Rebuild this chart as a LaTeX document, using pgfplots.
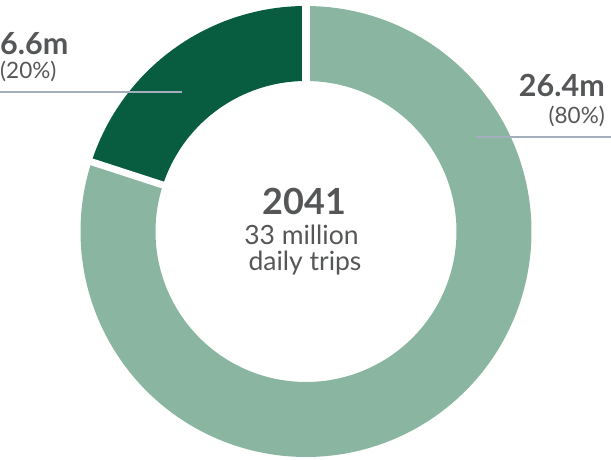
\documentclass[border=0pt]{standalone}
\usepackage{pgfplots}
\pgfplotsset{compat=1.18}
\usepackage{pgfplotstable}
\usepackage{fontspec}
\setmainfont{Lato}
\definecolor{lightg}{HTML}{8AB5A0}
\definecolor{darkg}{HTML}{085C40}
\definecolor{txt}{HTML}{555658}
\definecolor{leader}{HTML}{A3AFBD}
\pgfplotstableread{
label value
Light 26.4
Dark 6.6
}\shares
\begin{document}
\begin{tikzpicture}
\pgfplotstablegetelem{0}{value}\of\shares \let\vlight\pgfplotsretval
\pgfplotstablegetelem{1}{value}\of\shares \let\vdark\pgfplotsretval
\pgfmathsetmacro{\tot}{\vlight+\vdark}
\pgfmathsetmacro{\aone}{90+360*\vdark/\tot}
\pgfmathsetmacro{\atwo}{\aone+360*\vlight/\tot}
\begin{axis}[
  x=1pt, y=1pt,
  xmin=-306, xmax=305, ymin=-228.5, ymax=231.5,
  hide axis, clip=false,
]
% dark segment
\addplot[darkg, line width=75pt, line cap=butt, domain=90:\aone, samples=80, variable=\t] ({188*cos(t)},{188*sin(t)});
% light segment
\addplot[lightg, line width=75pt, line cap=butt, domain=\aone:\atwo, samples=240, variable=\t] ({188*cos(t)},{188*sin(t)});
% separators
\addplot[white, line width=8pt, domain=140:235, samples=2] ({x*cos(90)},{x*sin(90)});
\addplot[white, line width=7pt, domain=140:235, samples=2] ({x*cos(\aone)},{x*sin(\aone)});
% leader lines
\addplot[leader, line width=1.3pt] coordinates {(-306,139.5) (-124,139.5)};
\addplot[leader, line width=1.3pt] coordinates {(170,94.5) (305,94.5)};
% center text
\node[anchor=base, text=txt, font=\fontsize{36}{40}\selectfont\bfseries] at (axis cs:-1.5,16.5) {2041};
\node[anchor=base, text=txt, font=\fontsize{26.5}{30}\selectfont] at (axis cs:-4.5,-13.5) {33 million};
\node[anchor=base, text=txt, font=\fontsize{26.5}{30}\selectfont] at (axis cs:-1,-39.5) {daily trips};
% side labels
\node[anchor=base west, inner sep=0pt, text=txt, font=\fontsize{30.5}{34}\selectfont\bfseries] at (axis cs:-306,176.5) {6.6m};
\node[anchor=base west, inner sep=0pt, text=txt, font=\fontsize{22.5}{26}\selectfont] at (axis cs:-306,152.5) {(20\%)};
\node[anchor=base east, inner sep=0pt, text=txt, font=\fontsize{30.5}{34}\selectfont\bfseries] at (axis cs:299,134.5) {26.4m};
\node[anchor=base east, inner sep=0pt, text=txt, font=\fontsize{22.5}{26}\selectfont] at (axis cs:299,107.5) {(80\%)};
\end{axis}
\pgfresetboundingbox
\path[use as bounding box] (current axis.south west) rectangle (current axis.north east);
\end{tikzpicture}
\end{document}
